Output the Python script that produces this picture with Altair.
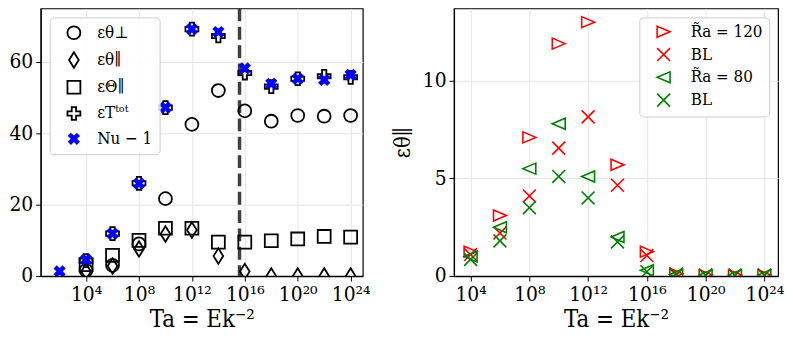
import altair as alt
import pandas as pd

FONT = "DejaVu Serif Condensed, DejaVu Serif"

# ---------------- data (left panel) ----------------
left_exp = [2, 4, 6, 8, 10, 12, 14, 16, 18, 20, 22, 24]
left_series = ["perp", "par", "Theta", "tot", "nu"]
left_labels = ["εθ⊥", "εθ∥", "εΘ∥", "εTᵗᵒᵗ", "Nu − 1"]
eps_perp = [None, 1.6, 3.0, 9.0, 21.7, 42.5, 52.0, 46.3, 43.4, 45.0, 44.8, 45.0]
eps_par = [None, 1.3, 2.8, 7.6, 11.8, 12.9, 5.6, 1.3, 0.0, 0.0, 0.0, 0.0]
eps_Theta = [None, 3.2, 5.8, 10.0, 13.4, 13.4, 9.5, 9.5, 9.9, 10.4, 11.1, 10.9]
eps_tot = [None, 4.3, 11.9, 26.0, 47.2, 69.2, 67.3, 56.9, 53.1, 55.3, 56.0, 55.7]
nu_minus_1 = [1.3, 4.6, 11.9, 25.9, 47.2, 69.2, 68.4, 58.2, 53.9, 55.3, 55.0, 56.4]
boundary_exp = [15.6]

# ---------------- data (right panel) ----------------
right_exp = [4, 6, 8, 10, 12, 14, 16, 18, 20, 22, 24]
right_series = ["ra120", "bl120", "ra80", "bl80"]
right_labels = ["R̃a = 120", "BL", "R̃a = 80", "BL"]
ra120 = [1.25, 3.1, 7.1, 11.9, 13.0, 5.7, 1.25, 0.12, 0.05, 0.05, 0.05]
bl120 = [1.1, 2.2, 4.1, 6.55, 8.15, 4.65, 1.05, 0.1, 0.05, 0.05, 0.05]
ra80 = [1.0, 2.5, 5.5, 7.8, 5.1, 2.0, 0.3, 0.08, 0.05, 0.05, 0.05]
bl80 = [0.85, 1.8, 3.5, 5.1, 4.0, 1.75, 0.22, 0.05, 0.03, 0.03, 0.03]

tick_exp = [4, 8, 12, 16, 20, 24]
tick_labels = ["10⁴", "10⁸", "10¹²", "10¹⁶", "10²⁰", "10²⁴"]

# ---------------- build tables ----------------
rows = []
for key, vals in zip(left_series, [eps_perp, eps_par, eps_Theta, eps_tot, nu_minus_1]):
    for e, v in zip(left_exp, vals):
        if v is not None:
            rows.append({"Ta": 10.0 ** e, "val": v, "series": key})
df_left = pd.DataFrame(rows)

rows = []
for key, vals in zip(right_series, [ra120, bl120, ra80, bl80]):
    for e, v in zip(right_exp, vals):
        rows.append({"Ta": 10.0 ** e, "val": v, "series": key})
df_right = pd.DataFrame(rows)

df_rule = pd.DataFrame({"Ta": [10.0 ** e for e in boundary_exp]})

# ---------------- shapes ----------------
THIN_DIAMOND = "M0,-1.2L0.75,0L0,1.2L-0.75,0Z"
PLUS = ("M-1,-0.333L-0.333,-0.333L-0.333,-1L0.333,-1L0.333,-0.333L1,-0.333"
        "L1,0.333L0.333,0.333L0.333,1L-0.333,1L-0.333,0.333L-1,0.333Z")
FILLED_X = ("M-0.75,-0.45L-0.45,-0.75L0,-0.3L0.45,-0.75L0.75,-0.45L0.3,0L0.75,0.45L0.45,0.75L0,0.3"
            "L-0.45,0.75L-0.75,0.45L-0.3,0Z")
THIN_X = "M-1,-1L1,1M-1,1L1,-1"
TRI_R = "M1,0L-1,-0.85L-1,0.85Z"
TRI_L = "M-1,0L1,-0.85L1,0.85Z"

left_shapes = ["circle", THIN_DIAMOND, "square", PLUS, FILLED_X]
left_stroke = ["black", "black", "black", "black", "blue"]
left_fill = ["transparent", "transparent", "transparent", "transparent", "blue"]

right_shapes = [TRI_R, THIN_X, TRI_L, THIN_X]
right_colors = ["#ff0000", "#ff0000", "#008000", "#008000"]


def label_expr(keys, labels):
    arr_k = "[" + ",".join(f"'{k}'" for k in keys) + "]"
    arr_l = "[" + ",".join(f"'{l}'" for l in labels) + "]"
    return f"{arr_l}[indexof({arr_k}, datum.value)]"


x_label_expr = ("[" + ",".join(f"'{l}'" for l in tick_labels) + "]"
                f"[(round(log(datum.value)/LN10) - {tick_exp[0]}) / 4]")
x_values = [10.0 ** e for e in tick_exp]

x_title = "Ta = Ek⁻²"

LBL = 21
TTL = 24
LEG = 17

# ---------------- left panel ----------------
legend_left = alt.Legend(
    title=None, orient="top-left", offset=9,
    labelFont=FONT, labelFontSize=LEG, labelColor="black",
    symbolSize=170, symbolStrokeWidth=1.8,
    fillColor="rgba(255,255,255,0.85)", strokeColor="#cccccc", cornerRadius=4,
    padding=7, rowPadding=5.5, symbolOffset=9, labelOffset=15,
    labelExpr=label_expr(left_series, left_labels),
)

xl = alt.X("Ta:Q",
           scale=alt.Scale(type="log", domain=[10 ** 0.57, 10 ** 24.92], nice=False),
           axis=alt.Axis(values=x_values, labelExpr=x_label_expr, title=x_title,
                         labelFont=FONT, titleFont=FONT))

rule = alt.Chart(df_rule).mark_rule(
    strokeDash=[13, 5.5], strokeWidth=3.5, color="#404040"
).encode(x=alt.X("Ta:Q"))

pts_left = alt.Chart(df_left).mark_point(size=170, strokeWidth=1.8, opacity=1, clip=True).encode(
    x=xl,
    y=alt.Y("val:Q", scale=alt.Scale(domain=[0, 75], nice=False),
            axis=alt.Axis(values=[0, 20, 40, 60], title=None, labelFont=FONT)),
    shape=alt.Shape("series:N", scale=alt.Scale(domain=left_series, range=left_shapes), legend=legend_left),
    stroke=alt.Stroke("series:N", scale=alt.Scale(domain=left_series, range=left_stroke), legend=legend_left),
    fill=alt.Fill("series:N", scale=alt.Scale(domain=left_series, range=left_fill), legend=legend_left),
    order=alt.Order("ord:Q"),
).transform_calculate(ord=f"indexof({left_series}, datum.series)")

left = alt.layer(rule, pts_left).properties(width=325, height=270)

# ---------------- right panel ----------------
legend_right = alt.Legend(
    title=None, orient="top-right", offset=9,
    labelFont=FONT, labelFontSize=LEG, labelColor="black",
    symbolSize=170, symbolStrokeWidth=1.6,
    fillColor="rgba(255,255,255,0.85)", strokeColor="#cccccc", cornerRadius=4,
    padding=6, rowPadding=3, symbolOffset=10, labelOffset=19,
    labelExpr=label_expr(right_series, right_labels),
)

right = alt.Chart(df_right).mark_point(size=170, strokeWidth=1.6, filled=False, opacity=1, clip=True).encode(
    x=alt.X("Ta:Q",
            scale=alt.Scale(type="log", domain=[10 ** 2.87, 10 ** 24.93], nice=False),
            axis=alt.Axis(values=x_values, labelExpr=x_label_expr, title=x_title,
                          labelFont=FONT, titleFont=FONT)),
    y=alt.Y("val:Q", scale=alt.Scale(domain=[0, 13.7], nice=False),
            axis=alt.Axis(values=[0, 5, 10], title="εθ∥", titlePadding=8, titleFontSize=22,
                          labelFont=FONT, titleFont=FONT)),
    shape=alt.Shape("series:N", scale=alt.Scale(domain=right_series, range=right_shapes), legend=legend_right),
    color=alt.Color("series:N", scale=alt.Scale(domain=right_series, range=right_colors), legend=legend_right),
).properties(width=327, height=270)

chart = alt.hconcat(left, right, spacing=92, bounds="flush").resolve_scale(
    x="independent", y="independent", shape="independent", color="independent",
    fill="independent", stroke="independent"
).properties(
    padding={"left": 0, "top": -4, "right": 0, "bottom": 0}
).configure_view(
    stroke="black", strokeWidth=1.2
).configure_axis(
    labelFont=FONT, titleFont=FONT, labelFontSize=LBL, titleFontSize=TTL,
    titleFontWeight="normal", labelColor="black", titleColor="black",
    domainColor="black", domainWidth=1.2, tickColor="black", tickSize=5, tickWidth=1,
    labelPadding=3, titlePadding=3, grid=True, gridColor="#e6e6e6", gridWidth=1,
)

chart.save("out.html", embed_options={"renderer": "svg", "actions": False})
